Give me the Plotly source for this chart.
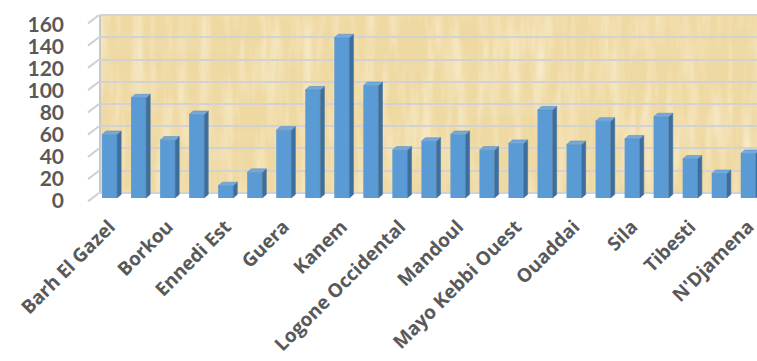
import base64
import plotly.graph_objects as go

# Provinces of Chad (alphabetical) and their counts
provinces = ["Barh El Gazel", "Batha", "Borkou", "Chari-Baguirmi", "Ennedi Est",
             "Ennedi Ouest", "Guera", "Hadjer-Lamis", "Kanem", "Lac",
             "Logone Occidental", "Logone Oriental", "Mandoul", "Mayo Kebbi Est",
             "Mayo Kebbi Ouest", "Moyen-Chari", "Ouaddai", "Salamat", "Sila",
             "Tandjile", "Tibesti", "Wadi Fira", "N'Djamena"]
counts = [57, 90, 52, 75, 11, 23, 61, 97, 144, 101, 43, 51, 57, 43, 49,
          79, 48, 69, 53, 73, 35, 22, 40]
y_ticks = [0, 20, 40, 60, 80, 100, 120, 140, 160]

FRONT = "#5B9BD5"
SIDE = "#3E6E9C"
TOP = "#74AADB"
BAR_W = 0.52      # front face width (category units)
DEPTH_X = 0.14    # extrusion to the right (category units)
DEPTH_Y = 3.2     # extrusion upward (value units)

xs = list(range(len(provinces)))

fig = go.Figure()

# front faces
fig.add_trace(go.Bar(x=xs, y=counts, width=BAR_W, marker=dict(color=FRONT, line=dict(width=0)),
                     hoverinfo="skip"))

# side and top faces of the extruded columns
side_x, side_y, top_x, top_y = [], [], [], []
for x, v in zip(xs, counts):
    xl, xr = x - BAR_W / 2, x + BAR_W / 2
    side_x += [xr, xr, xr + DEPTH_X, xr + DEPTH_X, xr, None]
    side_y += [0, v, v + DEPTH_Y, DEPTH_Y, 0, None]
    top_x += [xl, xr, xr + DEPTH_X, xl + DEPTH_X, xl, None]
    top_y += [v, v, v + DEPTH_Y, v + DEPTH_Y, v, None]

fig.add_trace(go.Scatter(x=side_x, y=side_y, mode="lines", fill="toself", fillcolor=SIDE,
                         line=dict(width=0.5, color=SIDE), hoverinfo="skip"))
fig.add_trace(go.Scatter(x=top_x, y=top_y, mode="lines", fill="toself", fillcolor=TOP,
                         line=dict(width=0.5, color="#4F86BA"), hoverinfo="skip"))
# empty trace so the label axis gets its own subplot
fig.add_trace(go.Scatter(x=[], y=[], yaxis="y3", hoverinfo="skip"))

PLOT_W = 657

# parchment texture for the back wall
svg = (
    "<svg xmlns='http://www.w3.org/2000/svg' width='657' height='178' viewBox='0 0 657 178'>"
    "<filter id='v'><feTurbulence type='fractalNoise' baseFrequency='0.09 0.012' numOctaves='3' seed='4'/>"
    "<feColorMatrix type='matrix' values='0 0 0 0 1  0 0 0 0 0.96  0 0 0 0 0.84  1.1 0 0 0 -0.45'/></filter>"
    "<filter id='h'><feTurbulence type='fractalNoise' baseFrequency='0.006 0.07' numOctaves='3' seed='9'/>"
    "<feColorMatrix type='matrix' values='0 0 0 0 0.86  0 0 0 0 0.76  0 0 0 0 0.52  0 1.0 0 0 -0.5'/></filter>"
    "<rect width='657' height='178' fill='#EFD9A2'/>"
    "<rect width='657' height='178' filter='url(#v)'/>"
    "<rect width='657' height='178' filter='url(#h)'/>"
    "</svg>"
)
texture = "data:image/svg+xml;base64," + base64.b64encode(svg.encode()).decode()
fig.add_layout_image(source=texture, xref="paper", yref="y2", x=0, y=160, sizex=1, sizey=160,
                     sizing="stretch", xanchor="left", yanchor="top", layer="below")

# back wall edge
fig.add_shape(type="line", xref="paper", yref="y2", x0=0, x1=0, y0=0, y1=160,
              line=dict(color="#C8C8C8", width=2), layer="below")
# perspective ticks on the side wall
for t in y_ticks:
    fig.add_shape(type="line", xref="paper", yref="y2", x0=-12 / PLOT_W, x1=-1 / PLOT_W,
                  y0=t - 7.5, y1=t, line=dict(color="#D0D0D0", width=2), layer="below")

fig.update_layout(
    width=757, height=361,
    margin=dict(l=100, r=0, t=10, b=156, autoexpand=False),
    plot_bgcolor="white", paper_bgcolor="white",
    showlegend=False,
    xaxis=dict(range=[-0.33, 22.3], tickvals=xs[::2], ticktext=provinces[::2],
               tickangle=-45, showgrid=False, zeroline=False, showline=False,
               ticks="", ticklabelstandoff=6, ticklabeloverflow="allow", automargin=False,
               tickfont=dict(family="Open Sans", size=19, color="#595959", weight="bold")),
    yaxis=dict(range=[-6.3, 169.0], visible=False, showgrid=False, zeroline=False,
               automargin=False),
    yaxis2=dict(overlaying="y", range=[-10.8, 164.5], tickvals=y_ticks, showgrid=True,
                gridcolor="#D2D2D2", gridwidth=2, showticklabels=False, zeroline=False,
                showline=False, ticks="", automargin=False),
    yaxis3=dict(overlaying="y", range=[-3.7, 173.6], tickvals=y_ticks, showgrid=False,
                zeroline=False, showline=False, ticks="", ticklabelstandoff=35,
                automargin=False,
                tickfont=dict(family="Lato", size=21, color="#595959", weight="bold")),
)

fig.write_html("out.html")
